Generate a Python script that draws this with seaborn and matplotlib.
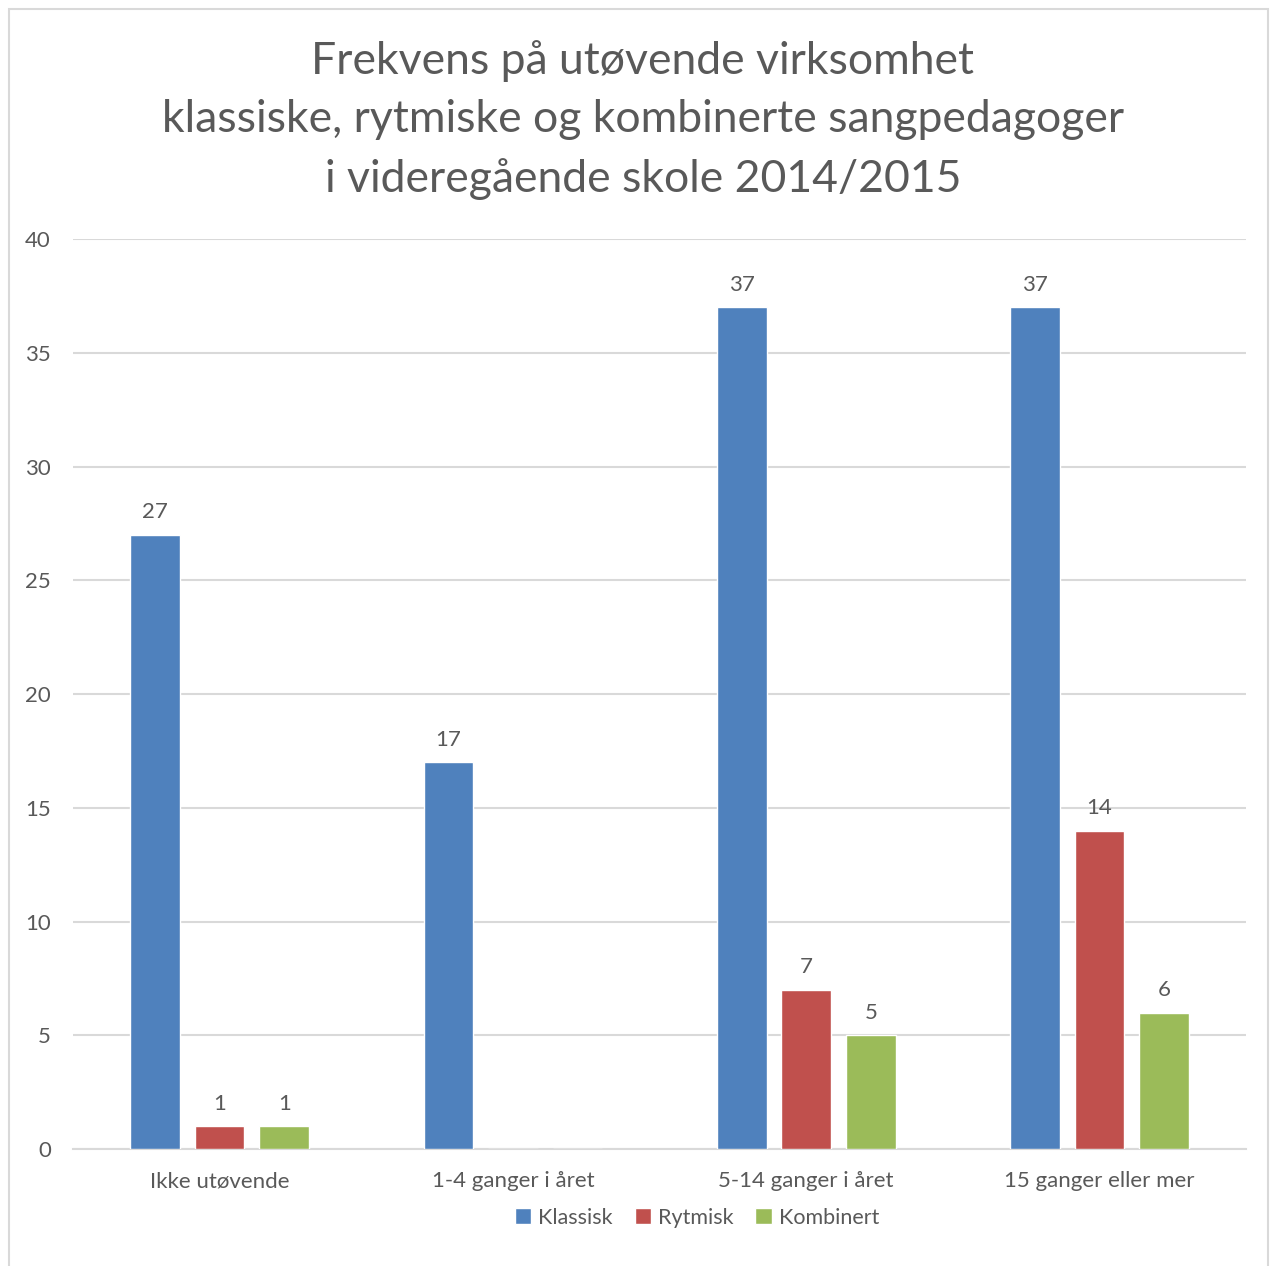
import pandas as pd
import matplotlib.pyplot as plt
import seaborn as sns
from matplotlib.patches import Rectangle

# -------------------------------------
# data
# -------------------------------------
categories = ["Ikke utøvende", "1-4 ganger i året", "5-14 ganger i året", "15 ganger eller mer"]
series = ["Klassisk", "Rytmisk", "Kombinert"]
klassisk = [27, 17, 37, 37]
rytmisk = [1, 0, 7, 14]
kombinert = [1, 0, 5, 6]
colors = ["#4F81BD", "#C0504D", "#9BBB59"]
title = ("Frekvens på utøvende virksomhet\n"
         "klassiske, rytmiske og kombinerte sangpedagoger\n"
         "i videregående skole 2014/2015")

df = pd.DataFrame({
    "kategori": categories * 3,
    "gruppe": [s for s in series for _ in categories],
    "antall": klassisk + rytmisk + kombinert,
})

sns.set_style("white")
plt.rcParams["font.family"] = ["Lato", "DejaVu Sans"]
txt = "#595959"
grid = "#D9D9D9"

fig = plt.figure(figsize=(12.78, 12.66), dpi=100)
ax = fig.add_axes([0.0571, 0.0924, 0.9180, 0.7188])

sns.barplot(data=df, x="kategori", y="antall", hue="gruppe", order=categories,
            hue_order=series, palette=colors, width=0.66, gap=0.23,
            saturation=1, ax=ax, zorder=3)

for cont in ax.containers:
    labels = [f"{v:.0f}" if v > 0 else "" for v in cont.datavalues]
    ax.bar_label(cont, labels=labels, padding=9, fontsize=16, color=txt)

ax.set_ylim(0, 40)
ax.set_xlim(-0.5, 3.5)
ax.set_yticks(range(0, 41, 5))
ax.yaxis.grid(True, color=grid, linewidth=1.5, zorder=0)
ax.set_axisbelow(True)
for s in ["top", "right", "left"]:
    ax.spines[s].set_visible(False)
ax.spines["bottom"].set_color(grid)
ax.spines["bottom"].set_linewidth(1.5)
ax.tick_params(axis="both", length=0, labelsize=16, colors=txt)
ax.tick_params(axis="y", pad=16)
ax.tick_params(axis="x", pad=16)
ax.set_xlabel("")
ax.set_ylabel("")

leg = ax.legend(loc="upper center", bbox_to_anchor=(0.532, -0.043), ncol=3,
                frameon=False, fontsize=15.5, handlelength=0.75, handleheight=0.75,
                handletextpad=0.35, columnspacing=1.0)
for t in leg.get_texts():
    t.set_color(txt)

fig.text(0.503, 1 - 120 / 1266, title, ha="center", va="center", fontsize=32,
         color=txt, linespacing=1.52)

fig.patches.append(Rectangle((0.007, -0.01), 0.985, 1.003, transform=fig.transFigure,
                             fill=False, edgecolor=grid, linewidth=1.5))

fig.savefig("out.png", dpi=100, facecolor="white")
